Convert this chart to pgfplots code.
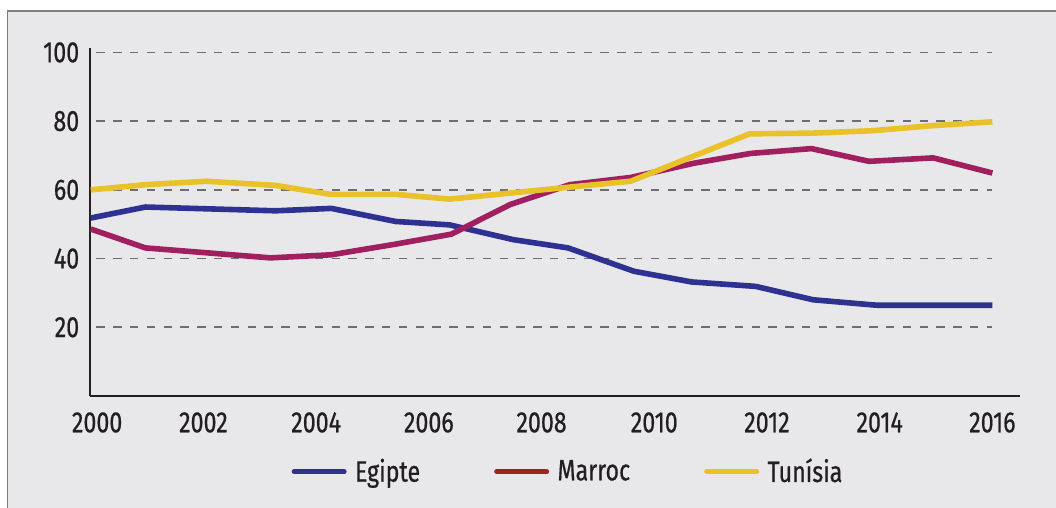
\documentclass[border=0pt]{standalone}
\usepackage{pgfplots}
\pgfplotsset{compat=1.18}
\usepackage{fontspec}
\setmainfont[FakeStretch=0.79,FakeBold=0.6]{Fira Sans}
\definecolor{bgc}{RGB}{232,232,234}
\definecolor{framec}{RGB}{122,128,136}
\definecolor{txtc}{RGB}{35,31,32}
\definecolor{gridc}{RGB}{110,110,113}
\definecolor{egc}{RGB}{46,49,146}
\definecolor{mac}{RGB}{160,31,94}
\definecolor{malegc}{RGB}{155,37,37}
\definecolor{tuc}{RGB}{233,193,41}
\begin{document}
\begin{tikzpicture}[x=1pt,y=1pt]
\useasboundingbox (0,0) rectangle (528,254);
\fill[white] (0,0) rectangle (528,254);
\fill[bgc] (3.75,0) rectangle (528,248.5);
\draw[framec, line width=0.6pt] (3.75,0) -- (3.75,248.5) -- (528,248.5);
\begin{axis}[
  at={(44.8pt,56pt)}, anchor=south west,
  scale only axis, width=465.2pt, height=174.2pt,
  xmin=1999.98, xmax=2016.49, ymin=0, ymax=101.4,
  axis x line*=bottom, axis y line*=left,
  axis line style={-, txtc, line width=1pt},
  major tick length=0pt,
  font=\fontsize{14.7}{16}\selectfont\color{txtc},
  xtick={2002,2004,2006,2008,2010,2012,2014,2016},
  xticklabels={2002,2004,2006,2008,2010,2012,2014,2016},
  extra x ticks={2000}, extra x tick labels={2000},
  extra x tick style={xticklabel style={xshift=3.2pt}},
  xticklabel style={anchor=center, yshift=-13.25pt},
  ytick={20,40,60,80,100},
  yticklabels={20,40,60,80,100},
  yticklabel style={anchor=east, inner sep=0pt, xshift=-5pt},
  legend columns=3,
  legend style={draw=none, fill=none, inner sep=0pt, outer sep=0pt,
    at={(axis description cs:0.2172,-0.2173)}, anchor=west,
    nodes={inner sep=0pt},
    /tikz/every odd column/.append style={column sep=4.2pt},
    /tikz/every even column/.append style={column sep=37pt}},
  legend image code/.code={\draw[#1, line width=2.5pt, line cap=round] (0pt,0pt) -- (25pt,0pt);},
]
\pgfplotsinvokeforeach{20,40,60,80,100}{
  \draw[gridc, dash pattern=on 4.2pt off 4.2pt, line width=0.9pt] (axis cs:2000.1,#1) -- (axis cs:2016,#1);
}
\addplot[egc, line width=2.8pt, line join=round, forget plot] coordinates {
(2000,51.8) (2000.97,55.0) (2003.28,53.9) (2004.27,54.6) (2005.41,50.8)
(2006.37,49.8) (2007.5,45.5) (2008.47,43.1) (2009.64,36.3) (2010.66,33.2)
(2011.80,31.9) (2012.82,28.0) (2013.96,26.4) (2016,26.4)};
\addplot[mac, line width=2.8pt, line join=round, forget plot] coordinates {
(2000,48.6) (2000.97,43.1) (2003.19,40.2) (2004.27,41.1) (2005.41,44.2)
(2006.40,47.1) (2007.44,55.7) (2008.50,61.5) (2009.58,63.6) (2010.72,67.8)
(2011.71,70.6) (2012.79,72.0) (2013.81,68.3) (2014.95,69.3) (2016,64.9)};
\addplot[tuc, line width=2.8pt, line join=round, forget plot] coordinates {
(2000,60.0) (2000.97,61.5) (2002.05,62.5) (2003.28,61.3) (2004.25,58.7)
(2005.41,58.7) (2006.37,57.3) (2008.5,60.8) (2009.58,62.5) (2011.69,76.3)
(2012.79,76.5) (2013.87,77.2) (2014.95,78.7) (2016,79.8)};
\addlegendimage{egc}\addlegendentry{Egipte}
\addlegendimage{malegc}\addlegendentry{Marroc}
\addlegendimage{tuc}\addlegendentry{Tunísia}
\end{axis}
\end{tikzpicture}
\end{document}
